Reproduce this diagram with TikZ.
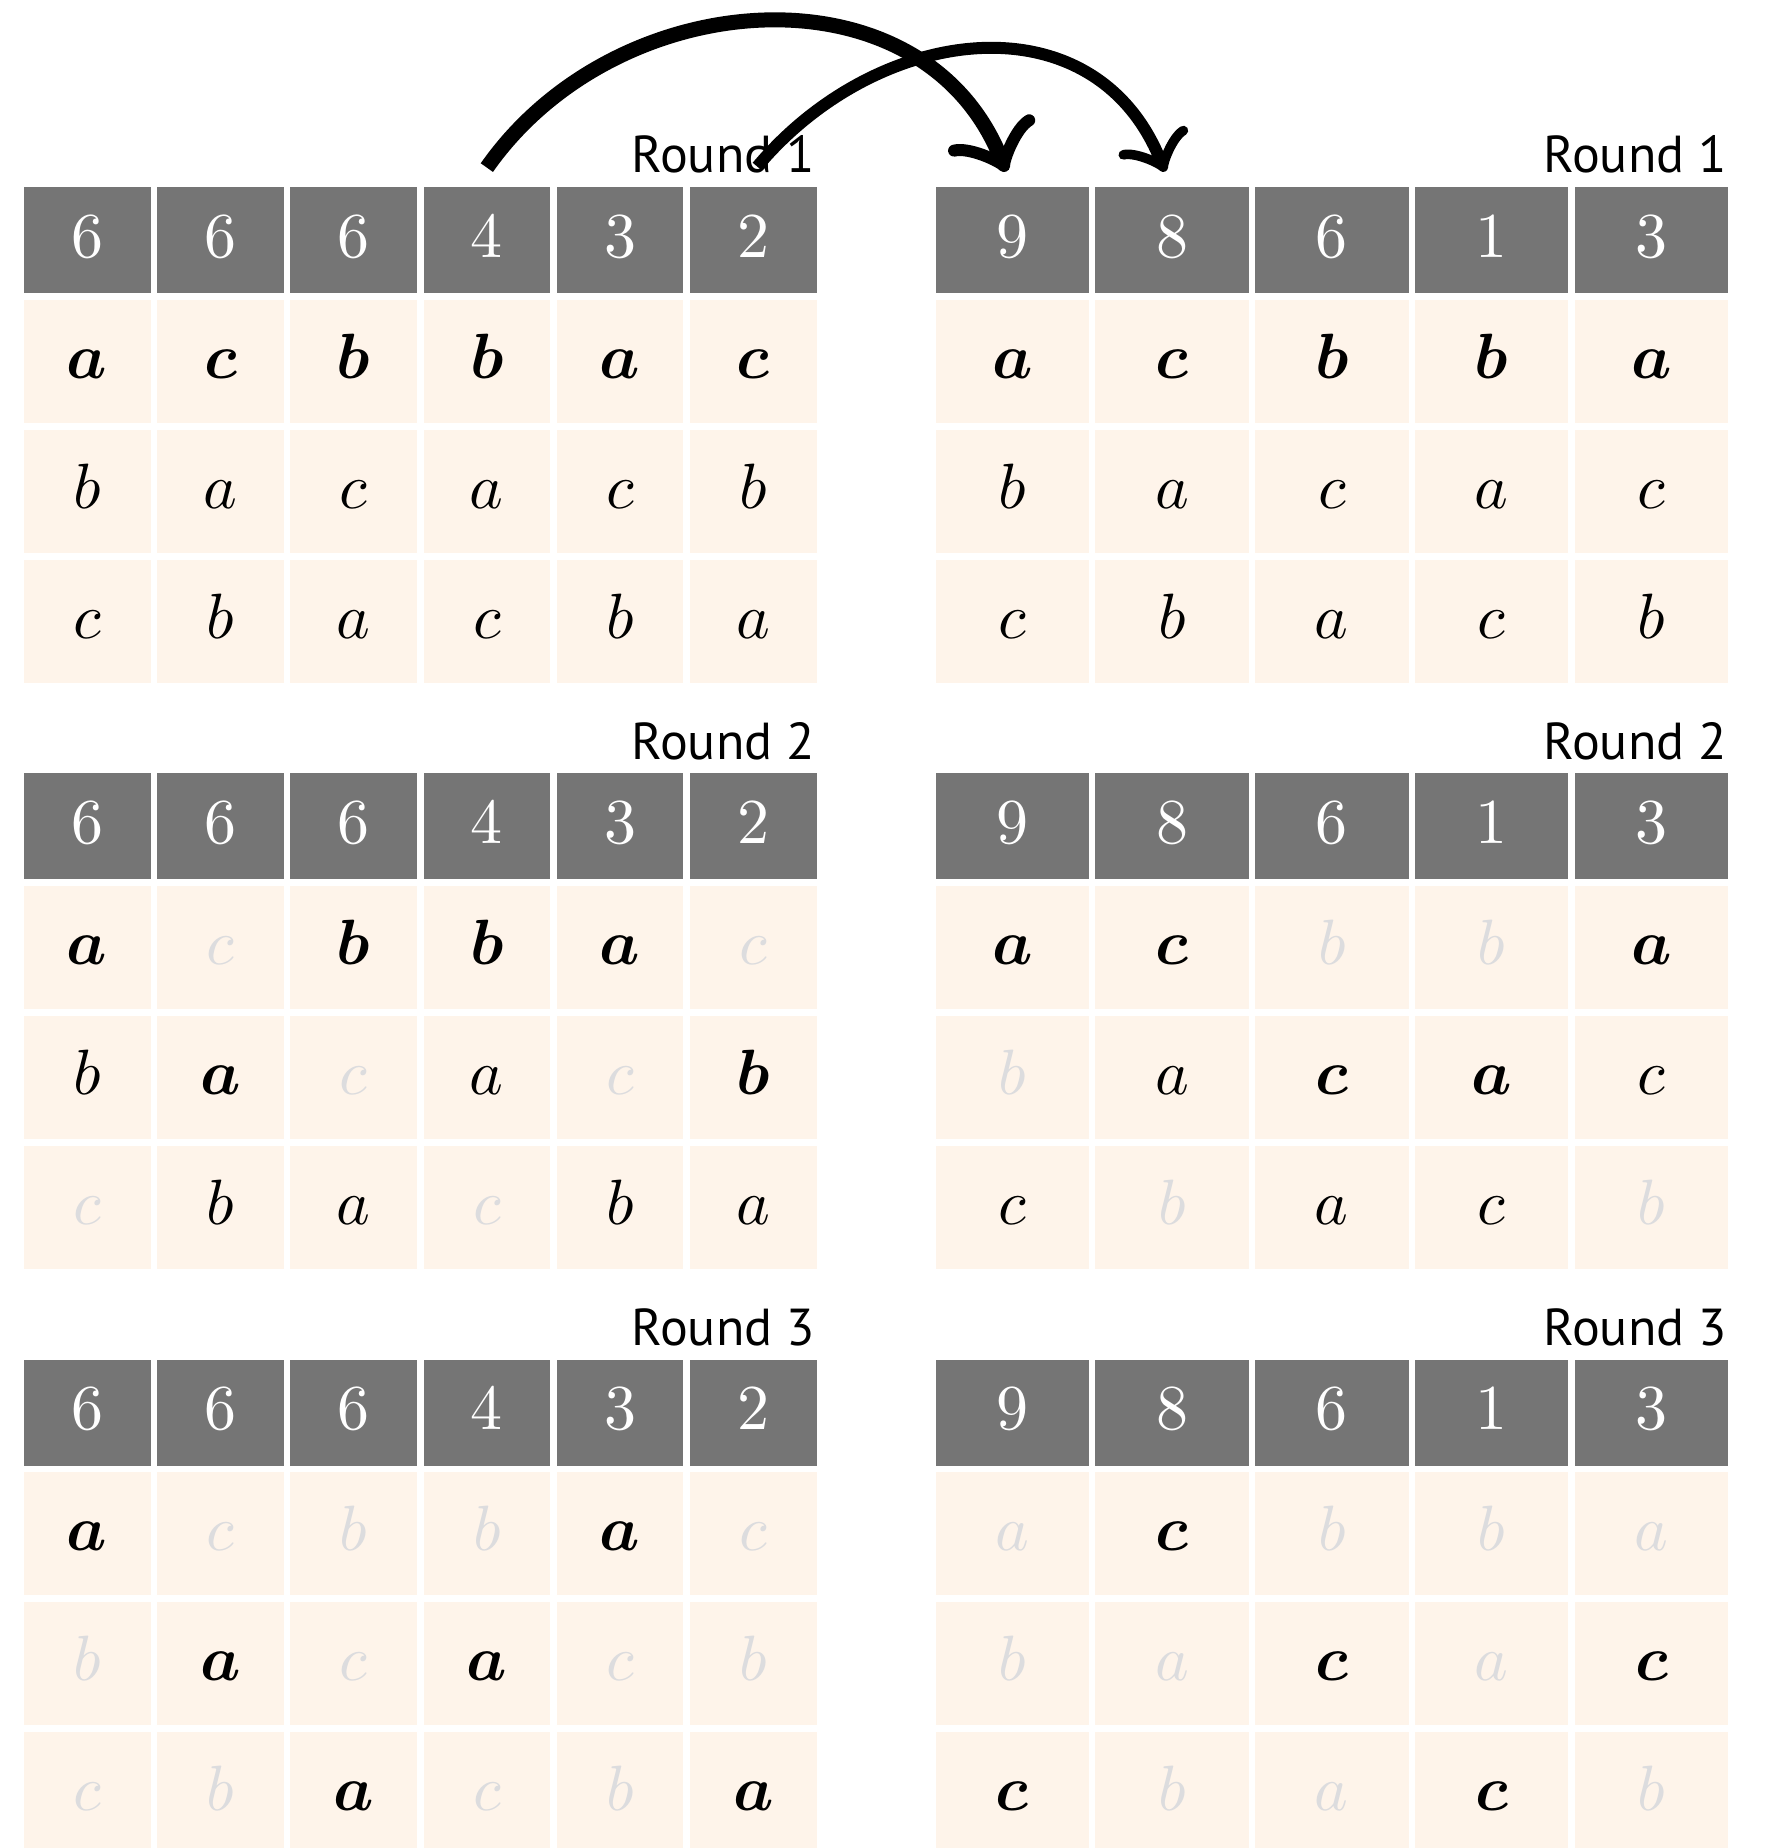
\documentclass[tikz,border=0pt]{standalone}
\usepackage{amsmath}
\usepackage{graphicx}
\usepackage{fontspec}
\usepackage{xcolor}
\usetikzlibrary{arrows.meta}
\newfontfamily\roundfont{PT Sans}
\definecolor{headgray}{RGB}{117,117,117}
\definecolor{cellbg}{RGB}{254,244,234}
\definecolor{faint}{RGB}{220,220,222}
% glyphs are set at 10pt and blown up
\newcommand\cellsize[1]{\scalebox{3.2}{#1}}
% 0 = faded, 1 = plain, 2 = bold
\newcommand\lettr[2]{\cellsize{\ifcase#1\relax\textcolor{faint}{$#2$}\or$#2$\or$\boldsymbol{#2}$\fi}}

\begin{document}
\begin{tikzpicture}[x=0.5pt, y=0.5pt,
  >={Classical TikZ Rightarrow[length=0pt 3, width=0pt 6.2]},
  box/.style={inner sep=0pt, text height=17pt, text depth=0pt, font=\fontsize{10}{12}\selectfont},
  head/.style={box, fill=headgray, text=white, minimum height=53pt},
  cell/.style={box, fill=cellbg, minimum height=61.5pt},
  lcol/.style={minimum width=63.25pt},
  rcol/.style={minimum width=76.75pt},
  tag/.style={font=\roundfont\fontsize{26}{31}\selectfont, anchor=base east, inner sep=0pt}]
  \useasboundingbox (0,0) rectangle (1767,-1848);

  %% Headers and round labels (same in every round)
  \foreach \k/\dy in {1/0, 2/586.3, 3/1172.6} {
    \node[tag] (L\k-tag) at (815,{-172.7-\dy}) {Round \k};
    \node[tag] (R\k-tag) at (1727,{-172.7-\dy}) {Round \k};
    \foreach \n [count=\i] in {6,6,6,4,3,2}
      \node[head, lcol] (L\k-h\i) at ({87.25+133.2*(\i-1)},{-240-\dy}) {\cellsize{\n}};
    \foreach \n [count=\i] in {9,8,6,1,3}
      \node[head, rcol] (R\k-h\i) at ({1012.25+159.8*(\i-1)},{-240-\dy}) {\cellsize{\n}};
  }

  %% Round 1 -- left
  \foreach \sym/\wt [count=\i] in {a/2,c/2,b/2,b/2,a/2,c/2}
    \node[cell, lcol] (L1-a\i) at ({87.25+133.2*(\i-1)},-361) {\lettr{\wt}{\sym}};
  \foreach \sym/\wt [count=\i] in {b/1,a/1,c/1,a/1,c/1,b/1}
    \node[cell, lcol] (L1-b\i) at ({87.25+133.2*(\i-1)},-491) {\lettr{\wt}{\sym}};
  \foreach \sym/\wt [count=\i] in {c/1,b/1,a/1,c/1,b/1,a/1}
    \node[cell, lcol] (L1-c\i) at ({87.25+133.2*(\i-1)},-621) {\lettr{\wt}{\sym}};
  %% Round 1 -- right
  \foreach \sym/\wt [count=\i] in {a/2,c/2,b/2,b/2,a/2}
    \node[cell, rcol] (R1-a\i) at ({1012.25+159.8*(\i-1)},-361) {\lettr{\wt}{\sym}};
  \foreach \sym/\wt [count=\i] in {b/1,a/1,c/1,a/1,c/1}
    \node[cell, rcol] (R1-b\i) at ({1012.25+159.8*(\i-1)},-491) {\lettr{\wt}{\sym}};
  \foreach \sym/\wt [count=\i] in {c/1,b/1,a/1,c/1,b/1}
    \node[cell, rcol] (R1-c\i) at ({1012.25+159.8*(\i-1)},-621) {\lettr{\wt}{\sym}};

  %% Round 2 -- left
  \foreach \sym/\wt [count=\i] in {a/2,c/0,b/2,b/2,a/2,c/0}
    \node[cell, lcol] (L2-a\i) at ({87.25+133.2*(\i-1)},-947.3) {\lettr{\wt}{\sym}};
  \foreach \sym/\wt [count=\i] in {b/1,a/2,c/0,a/1,c/0,b/2}
    \node[cell, lcol] (L2-b\i) at ({87.25+133.2*(\i-1)},-1077.3) {\lettr{\wt}{\sym}};
  \foreach \sym/\wt [count=\i] in {c/0,b/1,a/1,c/0,b/1,a/1}
    \node[cell, lcol] (L2-c\i) at ({87.25+133.2*(\i-1)},-1207.3) {\lettr{\wt}{\sym}};
  %% Round 2 -- right
  \foreach \sym/\wt [count=\i] in {a/2,c/2,b/0,b/0,a/2}
    \node[cell, rcol] (R2-a\i) at ({1012.25+159.8*(\i-1)},-947.3) {\lettr{\wt}{\sym}};
  \foreach \sym/\wt [count=\i] in {b/0,a/1,c/2,a/2,c/1}
    \node[cell, rcol] (R2-b\i) at ({1012.25+159.8*(\i-1)},-1077.3) {\lettr{\wt}{\sym}};
  \foreach \sym/\wt [count=\i] in {c/1,b/0,a/1,c/1,b/0}
    \node[cell, rcol] (R2-c\i) at ({1012.25+159.8*(\i-1)},-1207.3) {\lettr{\wt}{\sym}};

  %% Round 3 -- left
  \foreach \sym/\wt [count=\i] in {a/2,c/0,b/0,b/0,a/2,c/0}
    \node[cell, lcol] (L3-a\i) at ({87.25+133.2*(\i-1)},-1533.6) {\lettr{\wt}{\sym}};
  \foreach \sym/\wt [count=\i] in {b/0,a/2,c/0,a/2,c/0,b/0}
    \node[cell, lcol] (L3-b\i) at ({87.25+133.2*(\i-1)},-1663.6) {\lettr{\wt}{\sym}};
  \foreach \sym/\wt [count=\i] in {c/0,b/0,a/2,c/0,b/0,a/2}
    \node[cell, lcol] (L3-c\i) at ({87.25+133.2*(\i-1)},-1793.6) {\lettr{\wt}{\sym}};
  %% Round 3 -- right
  \foreach \sym/\wt [count=\i] in {a/0,c/2,b/0,b/0,a/0}
    \node[cell, rcol] (R3-a\i) at ({1012.25+159.8*(\i-1)},-1533.6) {\lettr{\wt}{\sym}};
  \foreach \sym/\wt [count=\i] in {b/0,a/0,c/2,a/0,c/2}
    \node[cell, rcol] (R3-b\i) at ({1012.25+159.8*(\i-1)},-1663.6) {\lettr{\wt}{\sym}};
  \foreach \sym/\wt [count=\i] in {c/2,b/0,a/0,c/2,b/0}
    \node[cell, rcol] (R3-c\i) at ({1012.25+159.8*(\i-1)},-1793.6) {\lettr{\wt}{\sym}};

  %% Hops from the left header to the right header
  \draw[->, line width=7.5pt] ([yshift=9.5pt]L1-h4.north)
    to[out=55, in=112, looseness=1.11] ([xshift=-3pt, yshift=7.5pt]R1-h1.north);
  \draw[->, line width=6pt] ([xshift=2pt, yshift=10pt]L1-h6.north)
    to[out=50, in=112, looseness=1.18] ([xshift=-3.5pt, yshift=7.5pt]R1-h2.north);
\end{tikzpicture}
\end{document}
